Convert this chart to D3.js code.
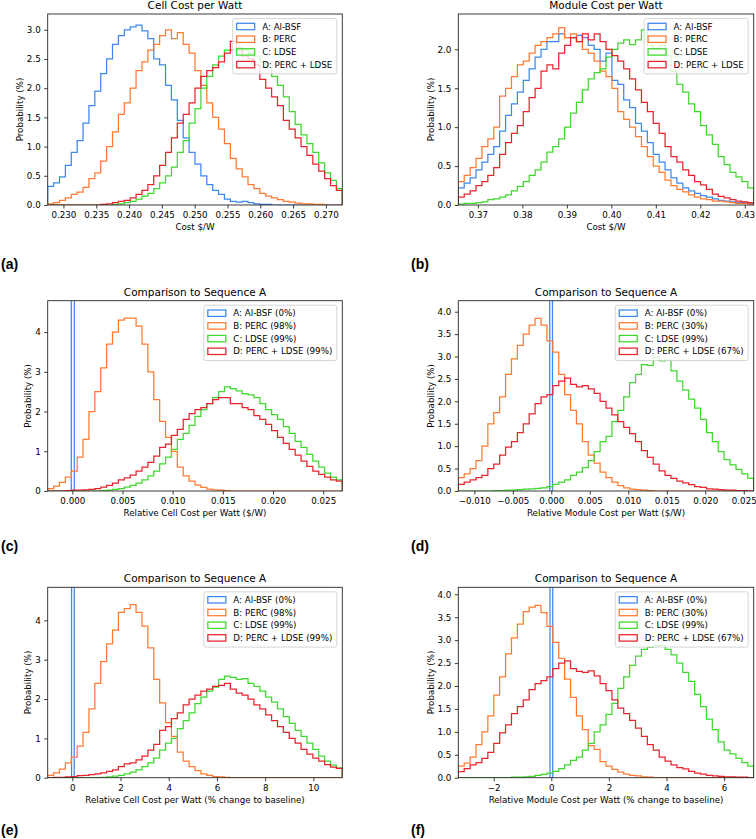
<!DOCTYPE html>
<html><head><meta charset="utf-8">
<script src="https://cdn.jsdelivr.net/npm/d3@7/dist/d3.min.js"></script>
<style>
body{margin:0;background:#fff}
svg{display:block;font-family:"DejaVu Sans",sans-serif}
</style>
</head><body>
<svg id="fig" width="756" height="839"></svg>
<script>
// ---------- DATA ----------
const seriesColors = ["#3d87f0", "#ff7a30", "#3ed92c", "#e8232c"];
const legendPlain = ["A: Al-BSF", "B: PERC", "C: LDSE", "D: PERC + LDSE"];
const legendCell  = ["A: Al-BSF (0%)", "B: PERC (98%)", "C: LDSE (99%)", "D: PERC + LDSE (99%)"];
const legendModule= ["A: Al-BSF (0%)", "B: PERC (30%)", "C: LDSE (99%)", "D: PERC + LDSE (67%)"];

// (a) Cell Cost per Watt — histogram range and bin heights (%)
const aRange = [0.2276, 0.2725];
const aBlue = [0.32,0.38,0.48,0.68,0.9,1.1,1.4,1.7,1.95,2.25,2.5,2.75,2.9,3.0,3.05,3.08,2.98,2.85,2.5,2.4,2.05,1.8,1.45,1.15,0.9,0.7,0.5,0.35,0.25,0.18,0.1,0.06,0.05,0.06,0.04,0.02,0.01,0.01,0,0,0,0,0,0,0,0,0,0,0,0];
const aOrange = [0.02,0.04,0.08,0.12,0.18,0.22,0.3,0.45,0.55,0.75,1.0,1.25,1.55,1.75,2.0,2.3,2.45,2.65,2.75,2.9,3.0,2.85,2.95,2.75,2.6,2.3,2.05,1.75,1.5,1.3,1.05,0.8,0.62,0.48,0.35,0.28,0.2,0.15,0.12,0.09,0.06,0.05,0.03,0.02,0.02,0.01,0.01,0,0,0];
const aGreen = [0,0,0,0,0,0,0,0,0,0,0,0.01,0.02,0.04,0.06,0.1,0.15,0.2,0.28,0.38,0.5,0.65,0.9,1.1,1.4,1.65,2.0,2.2,2.4,2.55,2.65,2.65,2.7,2.65,2.6,2.55,2.45,2.35,2.2,2.05,1.85,1.6,1.38,1.2,1.05,0.9,0.72,0.55,0.42,0.28];
const aRed = [0,0,0,0,0,0,0,0,0,0.01,0.02,0.04,0.06,0.08,0.12,0.18,0.25,0.35,0.5,0.68,0.9,1.15,1.4,1.55,1.75,2.0,2.2,2.3,2.35,2.45,2.6,2.8,2.65,2.55,2.5,2.4,2.15,2.0,1.85,1.7,1.45,1.3,1.15,1.0,0.85,0.7,0.58,0.45,0.33,0.25];
const aXTicks = [0.230,0.235,0.240,0.245,0.250,0.255,0.260,0.265,0.270];
const aYTicks = [0,0.5,1.0,1.5,2.0,2.5,3.0];

// (b) Module Cost per Watt
const bRange = [0.3656, 0.4320];
const bBlue = [0.22,0.28,0.35,0.45,0.55,0.65,0.75,0.95,1.15,1.3,1.45,1.6,1.75,1.9,2.0,2.1,2.1,2.2,2.15,2.15,2.18,2.15,2.05,2.0,1.85,1.95,1.6,1.55,1.35,1.25,1.05,0.95,0.8,0.65,0.55,0.45,0.35,0.28,0.22,0.18,0.15,0.12,0.1,0.08,0.06,0.05,0.04,0.03,0.03,0.02];
const bOrange = [0.3,0.38,0.48,0.6,0.75,0.85,1.0,1.4,1.5,1.65,1.8,1.85,1.95,2.05,2.1,2.15,2.2,2.28,2.15,2.2,2.1,2.0,1.95,1.85,1.72,1.65,1.5,1.2,1.1,1.0,0.88,0.75,0.62,0.5,0.42,0.32,0.25,0.2,0.17,0.13,0.1,0.08,0.07,0.05,0.05,0.04,0.03,0.02,0.02,0.01];
const bGreen = [0.01,0.02,0.02,0.03,0.04,0.07,0.08,0.1,0.13,0.18,0.24,0.3,0.38,0.45,0.55,0.68,0.75,0.85,1.0,1.18,1.32,1.48,1.62,1.7,1.75,1.9,2.0,2.08,2.12,2.06,2.12,2.25,2.05,2.0,2.05,1.92,1.72,1.55,1.45,1.3,1.2,1.02,0.9,0.78,0.62,0.52,0.42,0.36,0.3,0.22];
const bRed = [0.1,0.14,0.18,0.25,0.3,0.38,0.48,0.65,0.8,0.92,1.02,1.2,1.38,1.5,1.72,1.8,1.75,1.95,2.05,2.15,2.1,2.2,2.12,2.2,2.1,2.0,1.92,1.85,1.75,1.62,1.48,1.32,1.2,1.05,0.92,0.75,0.62,0.55,0.45,0.38,0.3,0.26,0.2,0.14,0.11,0.09,0.07,0.05,0.04,0.03];
const bXTicks = [0.37,0.38,0.39,0.40,0.41,0.42,0.43];
const bYTicks = [0,0.5,1.0,1.5,2.0];

// (c) Relative cell cost per watt ($/W)
const cRange = [-0.00245, 0.0269];
const cBlueEdges = [-0.0001, 0.0002];
const cBlue = [100];
const cOrange = [0.06,0.12,0.22,0.35,0.5,0.85,1.3,2.0,2.5,3.1,3.7,4.0,4.3,4.35,4.35,4.15,3.7,3.0,2.3,1.75,1.35,1.0,0.6,0.38,0.25,0.15,0.09,0.05,0.03,0.02,0.01,0,0,0,0,0,0,0,0,0,0,0,0,0,0,0,0,0,0,0];
const cGreen = [0,0,0,0,0,0,0,0,0,0.01,0.02,0.04,0.06,0.1,0.14,0.2,0.28,0.38,0.5,0.68,0.85,1.05,1.3,1.45,1.65,1.88,2.05,2.2,2.35,2.5,2.62,2.58,2.52,2.45,2.42,2.35,2.2,2.05,1.92,1.8,1.62,1.45,1.25,1.1,0.92,0.75,0.6,0.45,0.35,0.28];
const cRed = [0,0,0,0.01,0.02,0.02,0.03,0.04,0.06,0.1,0.14,0.2,0.28,0.33,0.4,0.5,0.6,0.72,0.88,1.1,1.18,1.4,1.55,1.8,1.95,2.05,2.1,2.2,2.3,2.35,2.35,2.2,2.2,2.1,2.05,1.9,1.8,1.68,1.52,1.35,1.2,1.05,0.9,0.75,0.62,0.5,0.42,0.35,0.28,0.25];
const cXTicks = [0,0.005,0.010,0.015,0.020,0.025];
const cYTicks = [0,1,2,3,4];

// (d) Relative module cost per watt ($/W)
const dRange = [-0.01208, 0.02629];
const dBlueEdges = [-0.0002, 0.00015];
const dBlue = [100];
const dOrange = [0.3,0.38,0.5,0.68,1.0,1.5,1.75,2.1,2.6,2.95,3.25,3.5,3.7,3.85,3.7,3.35,3.1,2.6,2.15,1.8,1.5,1.1,0.8,0.62,0.42,0.3,0.2,0.12,0.07,0.04,0.03,0.02,0.01,0,0,0,0,0,0,0,0,0,0,0,0,0,0,0,0,0];
const dGreen = [0,0,0,0,0,0,0.01,0.01,0.02,0.02,0.03,0.04,0.05,0.06,0.07,0.1,0.15,0.2,0.25,0.35,0.42,0.52,0.68,0.88,1.1,1.22,1.55,1.8,2.1,2.42,2.6,2.82,2.8,2.98,2.9,2.92,2.68,2.45,2.25,2.05,1.85,1.6,1.3,1.1,0.88,0.7,0.58,0.48,0.38,0.28];
const dRed = [0.15,0.2,0.25,0.3,0.35,0.5,0.6,0.8,0.98,1.1,1.3,1.5,1.72,1.95,2.1,2.15,2.35,2.45,2.52,2.38,2.32,2.35,2.28,2.18,2.0,1.85,1.7,1.55,1.42,1.28,1.1,0.9,0.75,0.6,0.45,0.35,0.28,0.22,0.18,0.14,0.1,0.08,0.05,0.04,0.03,0.02,0.02,0.01,0.01,0];
const dXTicks = [-0.010,-0.005,0,0.005,0.010,0.015,0.020,0.025];
const dYTicks = [0,0.5,1.0,1.5,2.0,2.5,3.0,3.5,4.0];

// (e) Relative cell cost per watt (% change to baseline)
const eRange = [-1.02, 11.2];
const eBlueEdges = [-0.03, 0.08];
const eBlue = [100];
const eOrange = [0.06,0.12,0.22,0.38,0.52,0.8,1.15,1.75,2.4,2.95,3.4,3.75,4.2,4.3,4.4,4.2,3.85,3.3,2.5,1.9,1.4,1.05,0.65,0.42,0.28,0.18,0.1,0.06,0.03,0.02,0.01,0,0,0,0,0,0,0,0,0,0,0,0,0,0,0,0,0,0,0];
const eGreen = [0,0,0,0,0,0,0,0,0,0.01,0.02,0.04,0.06,0.1,0.14,0.2,0.28,0.38,0.5,0.7,0.88,1.0,1.25,1.45,1.65,1.88,2.05,2.2,2.3,2.5,2.58,2.55,2.5,2.52,2.4,2.32,2.2,2.05,1.92,1.75,1.55,1.38,1.2,1.05,0.88,0.72,0.55,0.42,0.32,0.25];
const eRed = [0,0.01,0.01,0.02,0.03,0.05,0.06,0.08,0.1,0.12,0.16,0.2,0.28,0.35,0.38,0.45,0.55,0.7,0.85,1.2,1.3,1.5,1.65,1.85,2.0,2.1,2.2,2.25,2.32,2.35,2.4,2.25,2.15,2.1,2.0,1.85,1.75,1.6,1.45,1.3,1.15,1.0,0.88,0.72,0.6,0.5,0.42,0.33,0.27,0.24];
const eXTicks = [0,2,4,6,8,10];
const eYTicks = [0,1,2,3,4];

// (f) Relative module cost per watt (% change to baseline)
const fRange = [-3.229, 7.028];
const fBlueEdges = [-0.045, 0.05];
const fBlue = [100];
const fOrange = [0.25,0.32,0.45,0.72,1.0,1.35,1.8,2.2,2.7,3.05,3.35,3.62,3.72,3.76,3.6,3.3,2.95,2.6,2.15,1.75,1.35,1.05,0.7,0.62,0.35,0.25,0.18,0.12,0.08,0.05,0.04,0.02,0.01,0,0,0,0,0,0,0,0,0,0,0,0,0,0,0,0,0];
const fGreen = [0,0,0,0,0,0,0,0,0,0.01,0.01,0.02,0.03,0.05,0.07,0.1,0.14,0.2,0.28,0.38,0.45,0.6,0.75,1.0,1.15,1.38,1.62,1.95,2.2,2.45,2.65,2.8,2.85,2.88,2.88,2.8,2.68,2.5,2.3,2.1,1.82,1.55,1.28,1.05,0.78,0.6,0.52,0.42,0.33,0.25];
const fRed = [0.13,0.2,0.28,0.33,0.42,0.55,0.75,0.98,1.15,1.4,1.55,1.7,1.92,2.05,2.12,2.2,2.38,2.5,2.55,2.38,2.32,2.3,2.33,2.22,2.05,1.9,1.7,1.52,1.4,1.25,1.08,0.9,0.72,0.6,0.45,0.36,0.28,0.22,0.19,0.14,0.1,0.08,0.05,0.04,0.03,0.02,0.02,0.01,0.01,0];
const fXTicks = [-2,0,2,4,6];
const fYTicks = [0,0.5,1.0,1.5,2.0,2.5,3.0,3.5,4.0];

// ---------- LAYOUT ----------
const panels = [
  {id:"a", box:[47.7,14,342.3,205], range:aRange, yMax:3.27, xTicks:aXTicks, xFmt:".3f", yTicks:aYTicks, yFmt:".1f",
   title:"Cell Cost per Watt", xLabel:"Cost $/W", legend:legendPlain, ylabX:20, tag:"(a)", tagPos:[1,269],
   series:[{v:aBlue},{v:aOrange},{v:aGreen},{v:aRed}]},
  {id:"b", box:[458.3,14,753.7,205], range:bRange, yMax:2.454, xTicks:bXTicks, xFmt:".2f", yTicks:bYTicks, yFmt:".1f",
   title:"Module Cost per Watt", xLabel:"Cost $/W", legend:legendPlain, ylabX:431, tag:"(b)", tagPos:[411,269],
   series:[{v:bBlue},{v:bOrange},{v:bGreen},{v:bRed}]},
  {id:"c", box:[47.7,300.7,342.3,491], range:cRange, yMax:4.79, xTicks:cXTicks, xFmt:".3f", yTicks:cYTicks, yFmt:"d",
   title:"Comparison to Sequence A", xLabel:"Relative Cell Cost per Watt ($/W)", legend:legendCell, ylabX:28.3, tag:"(c)", tagPos:[1,551],
   series:[{v:cBlue,edges:cBlueEdges},{v:cOrange},{v:cGreen},{v:cRed}]},
  {id:"d", box:[458.3,300.7,753.7,491], range:dRange, yMax:4.245, xTicks:dXTicks, xFmt:".3f", yTicks:dYTicks, yFmt:".1f",
   title:"Comparison to Sequence A", xLabel:"Relative Module Cost per Watt ($/W)", legend:legendModule, ylabX:431, tag:"(d)", tagPos:[411,551],
   series:[{v:dBlue,edges:dBlueEdges},{v:dOrange},{v:dGreen},{v:dRed}]},
  {id:"e", box:[47.7,587.3,342.3,777.7], range:eRange, yMax:4.84, xTicks:eXTicks, xFmt:"d", yTicks:eYTicks, yFmt:"d",
   title:"Comparison to Sequence A", xLabel:"Relative Cell Cost per Watt (% change to baseline)", legend:legendCell, ylabX:28.3, tag:"(e)", tagPos:[1,835],
   series:[{v:eBlue,edges:eBlueEdges},{v:eOrange},{v:eGreen},{v:eRed}]},
  {id:"f", box:[458.3,587.3,753.7,777.7], range:fRange, yMax:4.153, xTicks:fXTicks, xFmt:"d", yTicks:fYTicks, yFmt:".1f",
   title:"Comparison to Sequence A", xLabel:"Relative Module Cost per Watt (% change to baseline)", legend:legendModule, ylabX:431, tag:"(f)", tagPos:[411,835],
   series:[{v:fBlue,edges:fBlueEdges},{v:fOrange},{v:fGreen},{v:fRed}]}
];

const svg = d3.select("#fig");
const defs = svg.append("defs");
const FS = 8.7, TFS = 10.5, SPINE = "#262626";

panels.forEach(p => {
  const [L,T,R,B] = p.box;
  const x = d3.scaleLinear().domain(p.range).range([L,R]);
  const y = d3.scaleLinear().domain([0,p.yMax]).range([B,T]);
  const g = svg.append("g").attr("class","panel-"+p.id);

  defs.append("clipPath").attr("id","clip-"+p.id)
    .append("rect").attr("x",L).attr("y",T).attr("width",R-L).attr("height",B-T);
  const plot = g.append("g").attr("clip-path",`url(#clip-${p.id})`);

  p.series.forEach((s,k) => {
    const n = s.v.length;
    const edges = s.edges ? s.edges : d3.range(n+1).map(i => p.range[0] + i*(p.range[1]-p.range[0])/n);
    const pts = [[edges[0],0]];
    s.v.forEach((val,i) => { pts.push([edges[i],val]); pts.push([edges[i+1],val]); });
    pts.push([edges[n],0]);
    plot.append("path")
      .attr("d", d3.line().x(d=>x(d[0])).y(d=>y(d[1]))(pts))
      .attr("fill","none").attr("stroke",seriesColors[k]).attr("stroke-width",1.25)
      .attr("stroke-linejoin","miter");
  });

  // axes
  const xa = g.append("g").attr("transform",`translate(0,${B})`)
    .call(d3.axisBottom(x).tickValues(p.xTicks).tickFormat(d3.format(p.xFmt)).tickSizeOuter(0).tickSize(3.5).tickPadding(3.5));
  const ya = g.append("g").attr("transform",`translate(${L},0)`)
    .call(d3.axisLeft(y).tickValues(p.yTicks).tickFormat(d3.format(p.yFmt)).tickSizeOuter(0).tickSize(3.5).tickPadding(3.5));
  [xa,ya].forEach(a => {
    a.select(".domain").remove();
    a.selectAll("line").attr("stroke",SPINE).attr("stroke-width",0.9);
    a.selectAll("text").attr("fill","#000").style("font-size",FS+"px").style("font-family","DejaVu Sans");
  });

  // frame
  g.append("rect").attr("x",L).attr("y",T).attr("width",R-L).attr("height",B-T)
    .attr("fill","none").attr("stroke",SPINE).attr("stroke-width",0.9);

  // title and labels
  g.append("text").attr("x",(L+R)/2).attr("y",T-5).attr("text-anchor","middle")
    .style("font-size",TFS+"px").text(p.title);
  g.append("text").attr("x",(L+R)/2).attr("y",B+25).attr("text-anchor","middle")
    .style("font-size",FS+"px").text(p.xLabel);
  g.append("text").attr("transform",`translate(${p.ylabX},${(T+B)/2}) rotate(-90)`)
    .attr("text-anchor","middle").attr("dominant-baseline","central")
    .style("font-size",FS+"px").text("Probability (%)");

  // legend
  const lg = g.append("g");
  const texts = p.legend.map((t,k) => lg.append("text").style("font-size",FS+"px").attr("dominant-baseline","central").text(t));
  const tw = d3.max(texts, t => t.node().getComputedTextLength());
  const padL = 4, patchW = 18, gap = 7.5, padR = 4.5, rowH = 12.7;
  const bw = padL + patchW + gap + tw + padR, bh = 4*rowH + 4.5;
  const bx = R - 5.5 - bw, by = T + 4.5;
  lg.insert("rect", "text").attr("x",bx).attr("y",by).attr("width",bw).attr("height",bh)
    .attr("rx",2).attr("fill","#fff").attr("fill-opacity",0.8).attr("stroke","#cccccc").attr("stroke-width",0.8);
  texts.forEach((t,k) => {
    const cy = by + 8 + k*rowH;
    t.attr("x", bx+padL+patchW+gap).attr("y", cy);
    lg.append("rect").attr("x",bx+padL).attr("y",cy-3.2).attr("width",patchW).attr("height",6.4)
      .attr("fill","none").attr("stroke",seriesColors[k]).attr("stroke-width",1.25);
  });

  // panel tag
  svg.append("text").attr("x",p.tagPos[0]).attr("y",p.tagPos[1])
    .style("font-family","'Liberation Sans',Arial,sans-serif").style("font-weight","bold").style("font-size","14px")
    .text(p.tag);
});
</script>
</body></html>
